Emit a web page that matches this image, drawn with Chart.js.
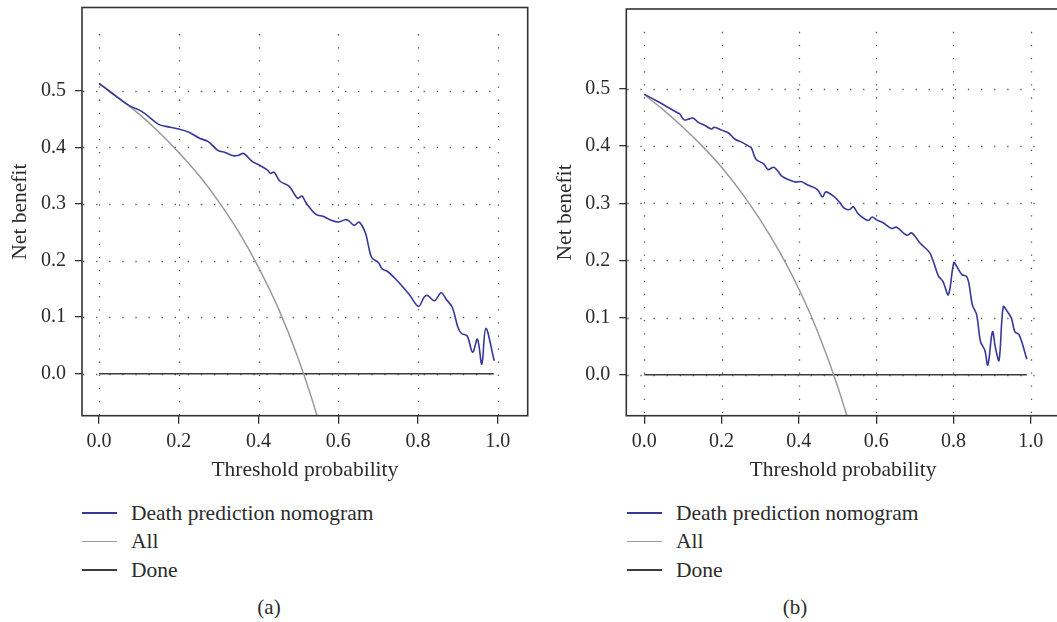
<!DOCTYPE html>
<html lang="en">
<head>
    <meta charset="utf-8">
    <script src="https://cdn.jsdelivr.net/npm/chart.js"></script>
    <style>
        body { margin: 0; overflow: hidden; background: #fff; font-family: "Liberation Serif", "DejaVu Serif", serif; color: #2b2b2b; }
        #wrap { position: relative; width: 1057px; height: 622px; overflow: hidden; }
        canvas { position: absolute; top: 0; }
        .legend { position: absolute; font-size: 21.5px; }
        .legend div { display: flex; align-items: center; height: 28.5px; }
        .legend span.ln { display: inline-block; width: 35px; margin-right: 14px; }
        .cap { position: absolute; top: 595px; font-size: 21px; transform: translateX(-50%); }
    </style>
</head>

<body>
<div id="wrap">
    <canvas id="chartA" width="540" height="490" style="left:0px"></canvas>
    <canvas id="chartB" width="540" height="490" style="left:530px"></canvas>
    <div class="legend" id="legendA" style="left:82px; top:499px"></div>
    <div class="legend" id="legendB" style="left:627px; top:499px"></div>
    <div class="cap" style="left:269px">(a)</div>
    <div class="cap" style="left:795px">(b)</div>
</div>

<script>
    // tick labels
    const xTicks = [0.0, 0.2, 0.4, 0.6, 0.8, 1.0];
    const yTicks = [0.0, 0.1, 0.2, 0.3, 0.4, 0.5];

    // panel (a): death prediction nomogram
    const nomoXA = [0, 0.075, 0.108, 0.151, 0.168, 0.202, 0.227, 0.252, 0.274, 0.299, 0.316, 0.337, 0.350, 0.363,
        0.384, 0.401, 0.422, 0.430, 0.439, 0.454, 0.477, 0.498, 0.509, 0.519, 0.545, 0.562, 0.579, 0.600, 0.617,
        0.625, 0.640, 0.652, 0.668, 0.676, 0.684, 0.701, 0.710, 0.723, 0.740, 0.756, 0.778, 0.801, 0.816, 0.824,
        0.841, 0.858, 0.871, 0.886, 0.900, 0.909, 0.923, 0.937, 0.949, 0.960, 0.970, 0.991];
    const nomoYA = [0.513, 0.474, 0.463, 0.440, 0.437, 0.432, 0.426, 0.416, 0.410, 0.394, 0.391, 0.385, 0.386, 0.389,
        0.375, 0.369, 0.360, 0.354, 0.356, 0.340, 0.331, 0.310, 0.314, 0.302, 0.281, 0.278, 0.272, 0.268, 0.272,
        0.271, 0.262, 0.268, 0.249, 0.225, 0.205, 0.196, 0.185, 0.181, 0.170, 0.158, 0.140, 0.119, 0.136, 0.138,
        0.129, 0.143, 0.131, 0.117, 0.082, 0.071, 0.067, 0.038, 0.061, 0.017, 0.080, 0.023];

    // panel (b): death prediction nomogram
    const nomoXB = [0, 0.035, 0.061, 0.087, 0.091, 0.103, 0.113, 0.126, 0.139, 0.157, 0.174, 0.181, 0.200, 0.218,
        0.235, 0.252, 0.270, 0.277, 0.289, 0.309, 0.320, 0.335, 0.346, 0.355, 0.374, 0.392, 0.405, 0.426, 0.448,
        0.461, 0.470, 0.492, 0.505, 0.518, 0.531, 0.541, 0.553, 0.579, 0.590, 0.601, 0.618, 0.640, 0.653, 0.679,
        0.692, 0.714, 0.738, 0.748, 0.761, 0.773, 0.787, 0.801, 0.809, 0.822, 0.834, 0.840, 0.849, 0.860, 0.870,
        0.881, 0.889, 0.901, 0.909, 0.918, 0.929, 0.940, 0.950, 0.959, 0.970, 0.990];
    const nomoYB = [0.491, 0.478, 0.468, 0.458, 0.457, 0.446, 0.447, 0.449, 0.442, 0.436, 0.430, 0.433, 0.428, 0.423,
        0.412, 0.407, 0.400, 0.397, 0.377, 0.369, 0.359, 0.363, 0.356, 0.348, 0.341, 0.337, 0.338, 0.331, 0.324,
        0.311, 0.320, 0.311, 0.302, 0.291, 0.289, 0.294, 0.282, 0.270, 0.276, 0.271, 0.266, 0.256, 0.258, 0.244,
        0.248, 0.230, 0.214, 0.198, 0.173, 0.163, 0.140, 0.196, 0.189, 0.175, 0.172, 0.160, 0.122, 0.105, 0.058,
        0.043, 0.017, 0.075, 0.046, 0.025, 0.119, 0.110, 0.099, 0.075, 0.070, 0.027];

    // "All" curves
    const allX = [0, 0.05, 0.1, 0.15, 0.2, 0.25, 0.3, 0.35, 0.4, 0.45, 0.5, 0.55, 0.6];
    const allYA = [0.513, 0.487, 0.459, 0.427, 0.391, 0.351, 0.304, 0.251, 0.188, 0.115, 0.026, -0.082, -0.217];
    const allYB = [0.490, 0.463, 0.433, 0.400, 0.363, 0.320, 0.271, 0.215, 0.150, 0.073, -0.020, -0.133, -0.275];

    // "Done" (treat none)
    const noneX = [0, 0.99];
    const noneY = [0, 0];

    const seriesNames = ["Death prediction nomogram", "All", "Done"];
    const seriesColors = ["#38389a", "#9a9a9a", "#3c3c3c"];

    const pts = (xs, ys) => xs.map((x, i) => ({ x: x, y: ys[i] }));
    const FAMILY = '"Liberation Serif", "DejaVu Serif", serif';
    const TICK_FONT = { family: FAMILY, size: 20 };
    const TITLE_FONT = { family: FAMILY, size: 21.5 };

    // dotted grid + box around plot area
    const plotDecor = {
        id: 'plotDecor',
        beforeDatasetsDraw(chart) {
            const { ctx, chartArea: a, scales: { x, y } } = chart;
            ctx.save();
            ctx.strokeStyle = '#555';
            ctx.lineWidth = 1.3;
            ctx.setLineDash([1.3, 11.8]);
            xTicks.forEach(v => {
                const px = Math.round(x.getPixelForValue(v)) + 0.5;
                ctx.beginPath();
                ctx.moveTo(px, y.getPixelForValue(0.6));
                ctx.lineTo(px, a.bottom);
                ctx.stroke();
            });
            yTicks.forEach(v => {
                const py = Math.round(y.getPixelForValue(v)) + 0.5;
                ctx.beginPath();
                ctx.moveTo(a.left + 1, py);
                ctx.lineTo(x.getPixelForValue(1.01), py);
                ctx.stroke();
            });
            ctx.restore();
        },
        afterDraw(chart) {
            const { ctx, chartArea: a } = chart;
            ctx.save();
            ctx.strokeStyle = '#333';
            ctx.lineWidth = 1.6;
            ctx.strokeRect(a.left, a.top, a.right - a.left, a.bottom - a.top);
            ctx.restore();
        }
    };

    function makeChart(id, nomo, all, cfg) {
        return new Chart(document.getElementById(id), {
            type: 'line',
            data: {
                datasets: [
                    { label: seriesNames[0], data: nomo, borderColor: seriesColors[0], borderWidth: 1.6, tension: 0.35 },
                    { label: seriesNames[1], data: all, borderColor: seriesColors[1], borderWidth: 1.5, cubicInterpolationMode: 'monotone' },
                    { label: seriesNames[2], data: pts(noneX, noneY), borderColor: seriesColors[2], borderWidth: 1.6 }
                ]
            },
            options: {
                responsive: false,
                animation: false,
                events: [],
                elements: { point: { radius: 0 } },
                layout: { padding: { top: cfg.top, right: cfg.right, left: 0, bottom: 0 } },
                plugins: { legend: { display: false }, tooltip: { enabled: false } },
                scales: {
                    x: {
                        type: 'linear',
                        min: cfg.xMin, max: cfg.xMax,
                        afterBuildTicks: s => { s.ticks = xTicks.map(v => ({ value: v })); },
                        afterFit: s => { s.height = 490 - cfg.bottom; s.paddingLeft = 0; s.paddingRight = 0; },
                        border: { display: false },
                        grid: { drawOnChartArea: false, drawTicks: true, tickLength: 8, color: '#333', lineWidth: 1.3 },
                        ticks: { font: TICK_FONT, color: '#2b2b2b', padding: 6, maxRotation: 0, callback: v => v.toFixed(1) },
                        title: { display: true, text: 'Threshold probability', font: TITLE_FONT, color: '#2b2b2b', padding: { top: 0, bottom: 7 } }
                    },
                    y: {
                        type: 'linear',
                        min: cfg.yMin, max: cfg.yMax,
                        afterBuildTicks: s => { s.ticks = yTicks.map(v => ({ value: v })); },
                        afterFit: s => { s.width = cfg.left; s.paddingTop = 0; s.paddingBottom = 0; },
                        border: { display: false },
                        grid: { drawOnChartArea: false, drawTicks: true, tickLength: 7, color: '#333', lineWidth: 1.3 },
                        ticks: { font: TICK_FONT, color: '#2b2b2b', padding: 9, callback: v => v.toFixed(1) },
                        title: { display: true, text: 'Net benefit', font: TITLE_FONT, color: '#2b2b2b', padding: { top: cfg.titlePad, bottom: 0 } }
                    }
                }
            },
            plugins: [plotDecor]
        });
    }

    const chartA = makeChart('chartA', pts(nomoXA, nomoYA), pts(allX, allYA),
        { left: 82, top: 7.5, right: 12.3, bottom: 415.7, xMin: -0.0426, xMax: 1.075, yMin: -0.0742, yMax: 0.647, titlePad: 7 });
    const chartB = makeChart('chartB', pts(nomoXB, nomoYB), pts(allX, allYB),
        { left: 96.3, top: 9, right: 10.3, bottom: 415.7, xMin: -0.0466, xMax: 1.075, yMin: -0.0718, yMax: 0.640, titlePad: 22.5 });

    // html legends built from the chart datasets
    function buildLegend(chart, id) {
        const el = document.getElementById(id);
        chart.data.datasets.forEach(ds => {
            const row = document.createElement('div');
            const ln = document.createElement('span');
            ln.className = 'ln';
            ln.style.borderTop = (ds.borderWidth + 0.4) + 'px solid ' + ds.borderColor;
            row.appendChild(ln);
            row.appendChild(document.createTextNode(ds.label));
            el.appendChild(row);
        });
    }
    buildLegend(chartA, 'legendA');
    buildLegend(chartB, 'legendB');
</script>
</body>
</html>
